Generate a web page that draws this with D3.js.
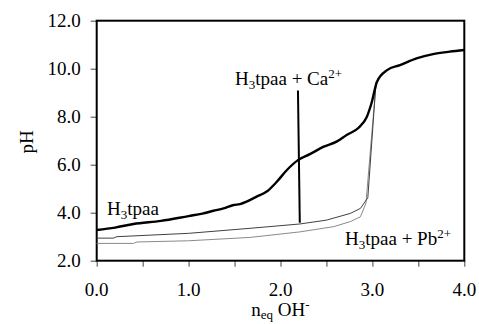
<!DOCTYPE html>
<html><head><meta charset="utf-8">
<script src="https://cdn.jsdelivr.net/npm/d3@7"></script>
<style>body{margin:0;background:#fff}svg{display:block}text{font-family:"Liberation Serif","Times New Roman",serif;fill:#000}</style>
</head><body><svg id="c" width="479" height="324"></svg>
<script>
// H3tpaa + Ca2+ (thick black)
const caX  = [0,0.2,0.4,0.7,1.0,1.15,1.27,1.38,1.49,1.56,1.63,1.74,1.85,1.96,2.07,2.19,2.32,2.47,2.61,2.72,2.85,2.94,2.99,3.05,3.16,3.30,3.48,3.66,3.84,4.0];
const caPH = [3.28,3.38,3.53,3.66,3.86,3.96,4.08,4.18,4.32,4.36,4.46,4.67,4.88,5.29,5.78,6.19,6.44,6.75,6.96,7.24,7.54,8.0,8.56,9.46,9.94,10.15,10.43,10.61,10.71,10.78];
// H3tpaa (dark grey, thin)
const hX  = [0,0.18,0.22,1.0,1.67,2.21,2.5,2.76,2.87,2.95,3.04];
const hPH = [2.94,2.94,3.0,3.14,3.35,3.53,3.69,3.97,4.18,4.62,9.45];
// H3tpaa + Pb2+ (light grey, thin)
const pbX  = [0,0.4,0.44,1.0,1.67,2.21,2.58,2.76,2.87,2.93,3.04];
const pbPH = [2.72,2.72,2.78,2.83,2.97,3.2,3.42,3.63,3.83,4.4,9.4];
// annotation pointer for Ca2+ label
const ptrX = [2.19,2.21];
const ptrPH = [9.09,3.58];
const xTicks = [0,1,2,3,4];
const xMinor = [0,0.5,1,1.5,2,2.5,3,3.5,4];
const yTicks = [2,4,6,8,10,12];

const FS=19, FSS=13;
const svg = d3.select("#c");
const L=96.7,R=464.3,T=20.7,B=260.7;
const x = d3.scaleLinear().domain([0,4]).range([L,R]);
const y = d3.scaleLinear().domain([2,12]).range([B,T]);

// ticks
svg.append("g").attr("transform",`translate(0,${B})`)
  .call(d3.axisBottom(x).tickValues(xMinor).tickSize(6).tickFormat(""))
  .call(g=>{g.select(".domain").remove();g.selectAll("line").attr("stroke","#444");});
svg.append("g").attr("transform",`translate(${L},0)`)
  .call(d3.axisLeft(y).tickValues(yTicks).tickSize(6).tickFormat(""))
  .call(g=>{g.select(".domain").remove();g.selectAll("line").attr("stroke","#444");});

// tick labels
svg.append("g").selectAll("text").data(xTicks).join("text")
  .attr("x",d=>x(d)).attr("y",B+35).attr("text-anchor","middle")
  .attr("font-size",FS).text(d=>d.toFixed(1));
svg.append("g").selectAll("text").data(yTicks).join("text")
  .attr("x",L-16).attr("y",d=>y(d)+6).attr("text-anchor","end")
  .attr("font-size",FS).text(d=>d.toFixed(1));

// frame
svg.append("rect").attr("x",L).attr("y",T).attr("width",R-L).attr("height",B-T)
  .attr("fill","none").attr("stroke","#000").attr("stroke-width",2);

const line = d3.line().x(d=>x(d[0])).y(d=>y(d[1])).curve(d3.curveMonotoneX);
const straight = d3.line().x(d=>x(d[0])).y(d=>y(d[1]));
svg.append("path").datum(pbX.map((v,i)=>[v,pbPH[i]])).attr("d",straight)
  .attr("fill","none").attr("stroke","#8a8a8a").attr("stroke-width",1);
svg.append("path").datum(hX.map((v,i)=>[v,hPH[i]])).attr("d",straight)
  .attr("fill","none").attr("stroke","#404040").attr("stroke-width",1);
svg.append("path").datum(caX.map((v,i)=>[v,caPH[i]])).attr("d",line)
  .attr("fill","none").attr("stroke","#000").attr("stroke-width",2.4).attr("stroke-linejoin","round");
svg.append("path").datum(ptrX.map((v,i)=>[v,ptrPH[i]])).attr("d",straight)
  .attr("fill","none").attr("stroke","#000").attr("stroke-width",2);

// labels
function chem(xp,yp,parts){
  const t=svg.append("text").attr("x",xp).attr("y",yp).attr("font-size",FS);
  parts.forEach(p=>{
    const s=t.append("tspan").text(p[0]);
    if(p[1]==="sub"){s.attr("font-size",FSS).attr("dy",4);}
    else if(p[1]==="sup"){s.attr("font-size",FSS).attr("dy",-7);}
    else if(p[1]==="back"){s.attr("dy",p[2]);}
  });
  return t;
}
chem(107,215,[["H"],["3","sub"],["tpaa","back",-4]]);
chem(235,85,[["H"],["3","sub"],["tpaa + Ca","back",-4],["2+","sup"]]);
chem(345,245,[["H"],["3","sub"],["tpaa + Pb","back",-4],["2+","sup"]]);

// axis titles
svg.append("text").attr("transform","translate(33,142) rotate(-90)")
  .attr("text-anchor","middle").attr("font-size",FS).text("pH");
const xt=svg.append("text").attr("x",(L+R)/2).attr("y",316).attr("text-anchor","middle").attr("font-size",FS);
xt.append("tspan").text("n");
xt.append("tspan").text("eq").attr("font-size",FSS).attr("dy",3);
xt.append("tspan").text(" OH").attr("dy",-3);
xt.append("tspan").text("-").attr("font-size",FSS).attr("dy",-7);
</script></body></html>
